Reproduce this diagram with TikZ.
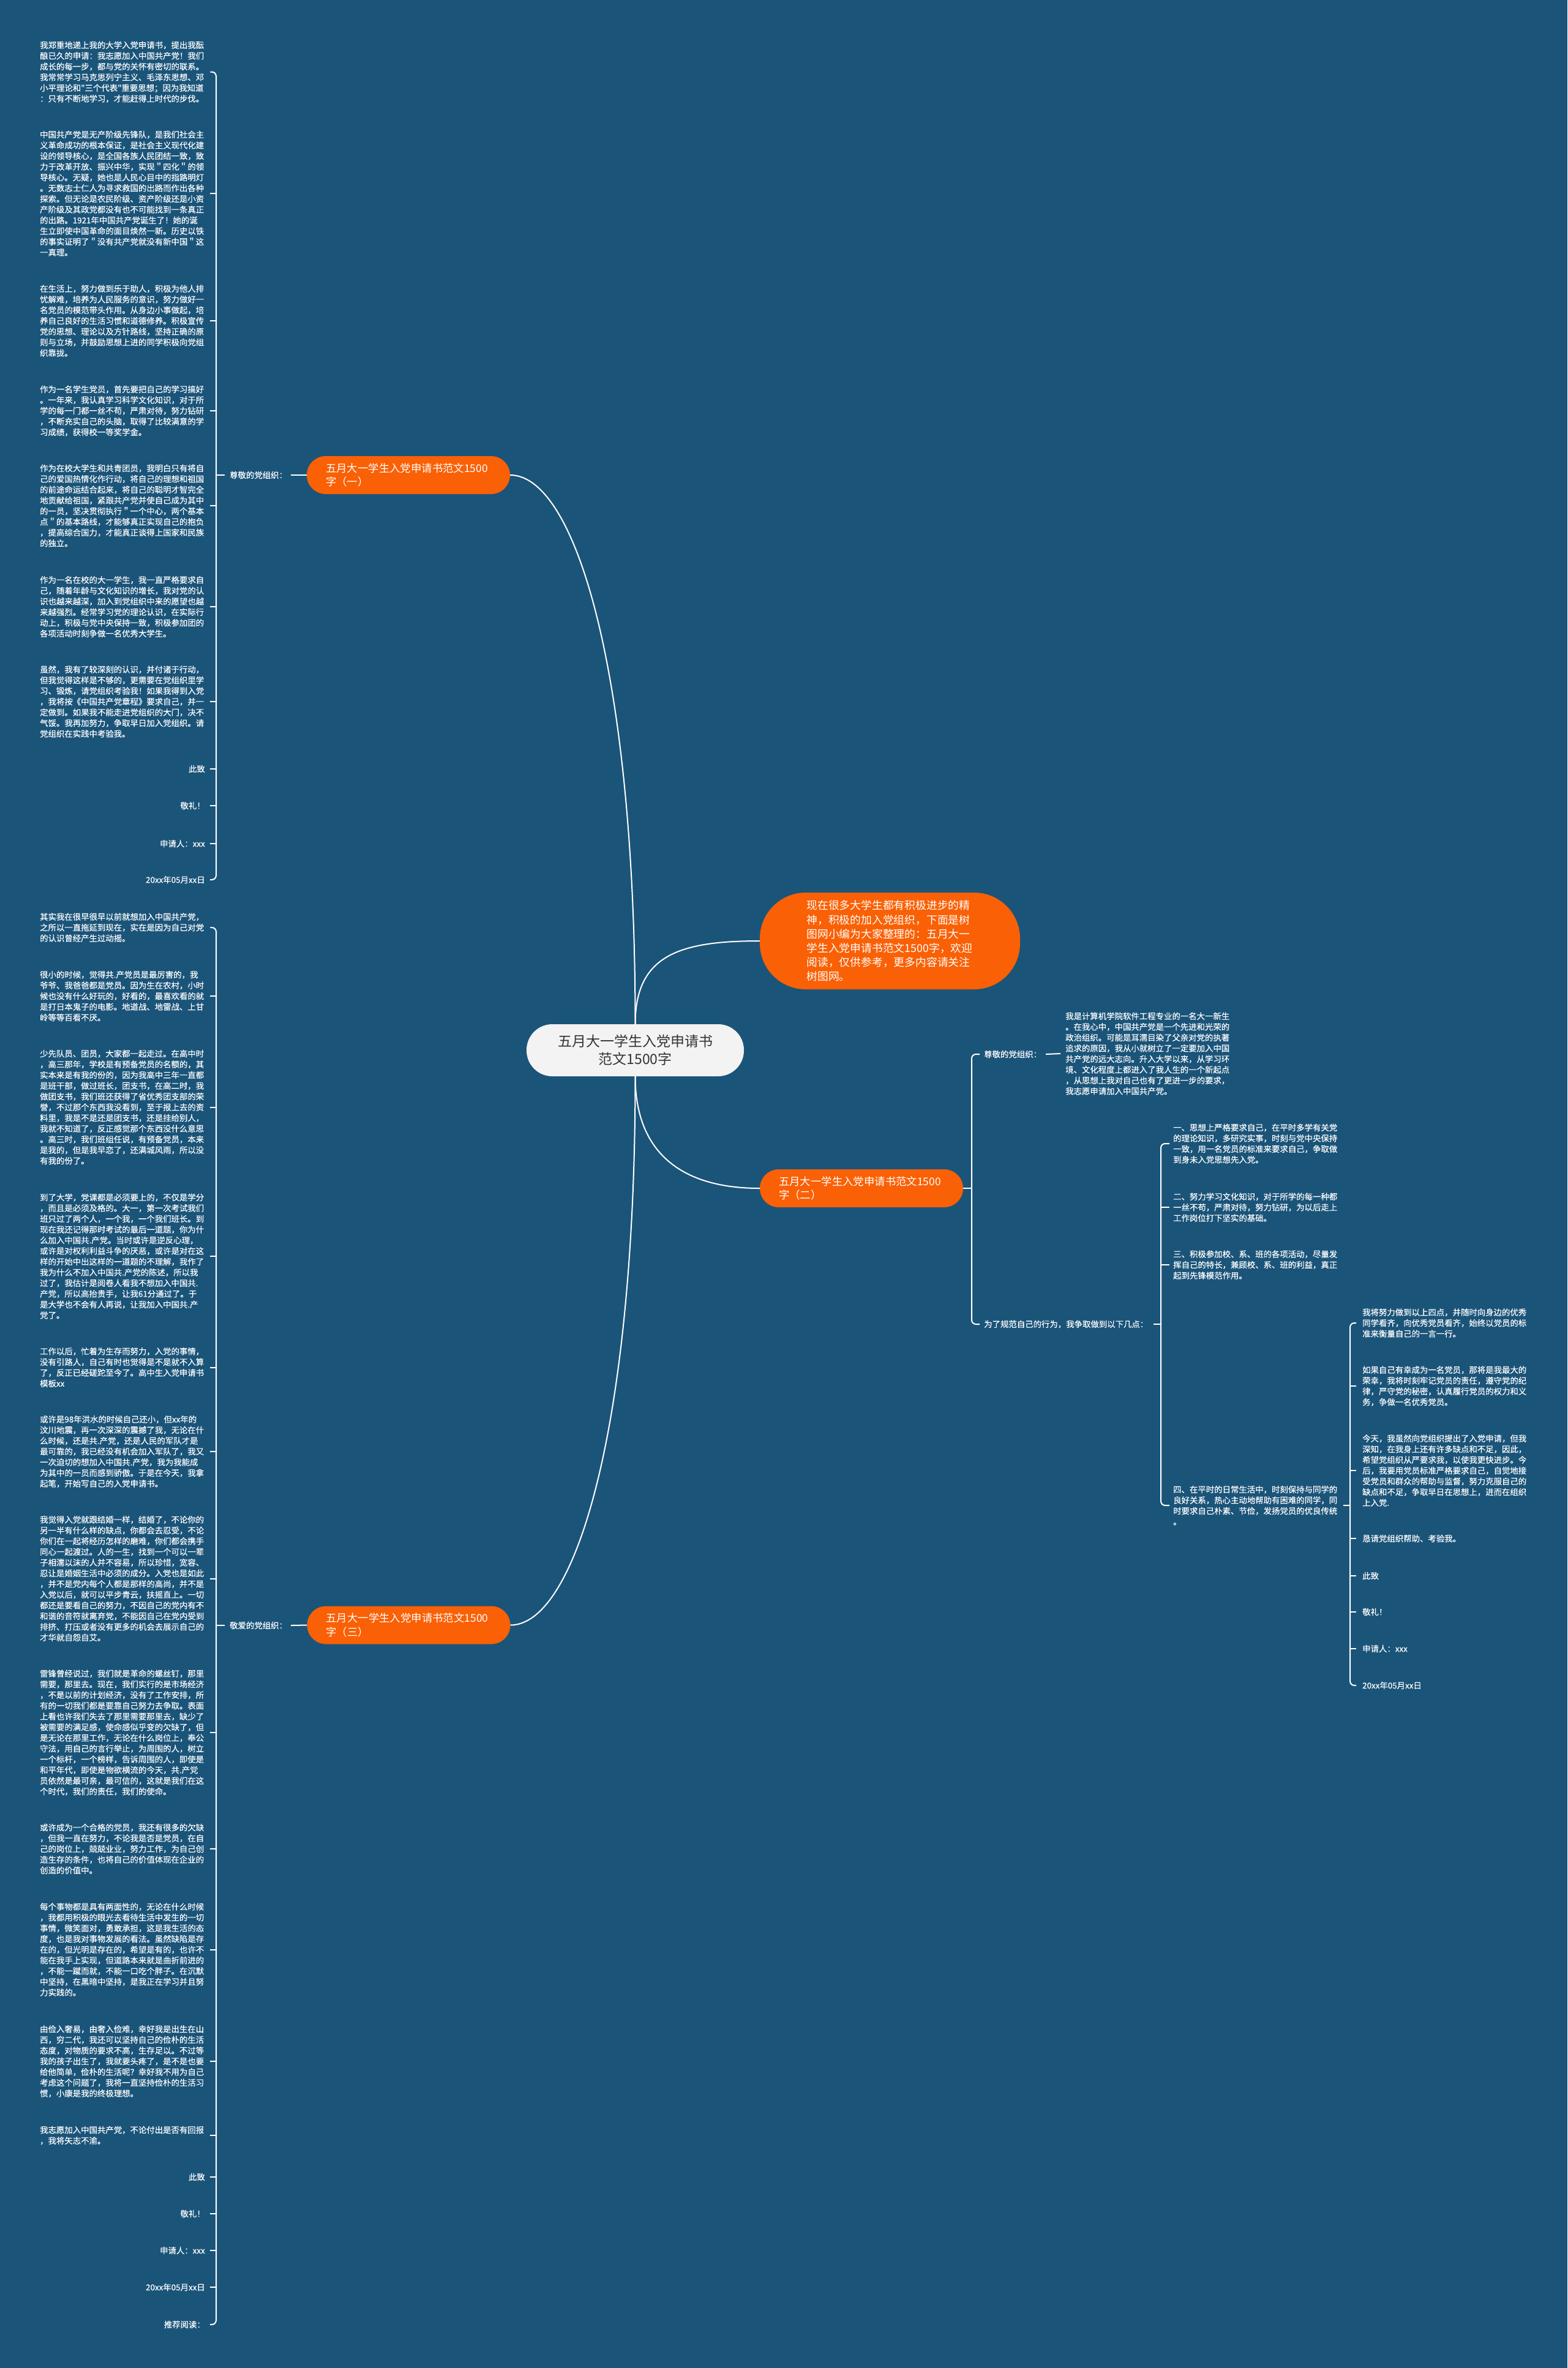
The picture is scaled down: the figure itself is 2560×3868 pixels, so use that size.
\documentclass[tikz,border=0pt]{standalone}
\usepackage{fontspec}
\newfontfamily\cjk{Noto Sans CJK SC}
\newfontfamily\cjkleaf[FakeBold=0.3]{Noto Sans CJK SC}
\definecolor{bgblue}{RGB}{27,84,121}
\definecolor{orangeC}{RGB}{250,96,5}
\definecolor{rootfill}{RGB}{243,243,243}
\definecolor{roottext}{RGB}{51,51,51}
\tikzset{
  conn/.style={draw=white, line width=2pt},
  leftblk/.style={anchor=west, text width=270pt, align=left, inner sep=0pt, text=white, font=\cjkleaf\fontsize{13.4}{17.5}\selectfont},
  rightitem/.style={anchor=east, inner sep=0pt, text=white, font=\cjkleaf\fontsize{13.4}{17.5}\selectfont},
  plainitem/.style={anchor=west, inner sep=0pt, text=white, font=\cjkleaf\fontsize{13.4}{17.5}\selectfont},
  secnode/.style={fill=orangeC, text=white, rounded corners=31pt, minimum width=332pt, minimum height=62pt, text width=270pt, align=left, inner xsep=31pt, inner ysep=5pt, font=\cjk\fontsize{17.4}{22.4}\selectfont},
  introbox/.style={fill=orangeC, text=white, rounded corners=75pt, minimum width=425pt, minimum height=158pt, text width=272pt, align=left, inner xsep=76.5pt, inner ysep=10pt, font=\cjk\fontsize{17.8}{23.2}\selectfont},
  rootbox/.style={fill=rootfill, text=roottext, rounded corners=42pt, minimum width=355pt, minimum height=85pt, align=center, font=\cjk\fontsize{23}{29}\selectfont}
}
\begin{document}
\begin{tikzpicture}[x=1pt, y=-1pt]
  % background
  \fill[bgblue] (0,0) rectangle (2560,3868);
  \useasboundingbox (0,0) rectangle (2560,3868);

  % main nodes
  \node[rootbox] (root) at (1037.5,1715.5) {五月大一学生入党申请书\\范文1500字};
  \node[introbox] (intro) at (1453.5,1537) {现在很多大学生都有积极进步的精\\神，积极的加入党组织，下面是树\\图网小编为大家整理的：五月大一\\学生入党申请书范文1500字，欢迎\\阅读，仅供参考，更多内容请关注\\树图网。};
  \node[secnode] (secA) at (667,776) {五月大一学生入党申请书范文1500\\字（一）};
  \node[secnode] (secB) at (1407,1941) {五月大一学生入党申请书范文1500\\字（二）};
  \node[secnode] (secC) at (667.5,2654.5) {五月大一学生入党申请书范文1500\\字（三）};

  \draw[conn] (root.north) .. controls (1037.5,1100) and (940,776) .. (secA.east);
  \draw[conn] (root.north) .. controls (1037.5,1560) and (1110,1537) .. (intro.west);
  \draw[conn] (root.south) .. controls (1037.5,1880) and (1110,1941) .. (secB.west);
  \draw[conn] (root.south) .. controls (1037.5,2331) and (940,2654.5) .. (secC.east);

  % section one, left column
  \node[plainitem] (labA) at (375,776) {尊敬的党组织：};
  \node[leftblk] (a1) at (65,117.5) {我郑重地递上我的大学入党申请书，提出我酝\\酿已久的申请：我志愿加入中国共产党！我们\\成长的每一步，都与党的关怀有密切的联系。\\我常常学习马克思列宁主义、毛泽东思想、邓\\小平理论和"三个代表"重要思想；因为我知道\\：只有不断地学习，才能赶得上时代的步伐。};
  \node[leftblk] (a2) at (65,316) {中国共产党是无产阶级先锋队，是我们社会主\\义革命成功的根本保证，是社会主义现代化建\\设的领导核心，是全国各族人民团结一致，致\\力于改革开放、振兴中华，实现＂四化＂的领\\导核心。无疑，她也是人民心目中的指路明灯\\。无数志士仁人为寻求救国的出路而作出各种\\探索。但无论是农民阶级、资产阶级还是小资\\产阶级及其政党都没有也不可能找到一条真正\\的出路。1921年中国共产党诞生了！她的诞\\生立即使中国革命的面目焕然一新。历史以铁\\的事实证明了＂没有共产党就没有新中国＂这\\一真理。};
  \node[leftblk] (a3) at (65,524) {在生活上，努力做到乐于助人，积极为他人排\\忧解难，培养为人民服务的意识，努力做好一\\名党员的模范带头作用。从身边小事做起，培\\养自己良好的生活习惯和道德修养。积极宣传\\党的思想、理论以及方针路线，坚持正确的原\\则与立场，并鼓励思想上进的同学积极向党组\\织靠拢。};
  \node[leftblk] (a4) at (65,671) {作为一名学生党员，首先要把自己的学习搞好\\。一年来，我认真学习科学文化知识，对于所\\学的每一门都一丝不苟，严肃对待，努力钻研\\，不断充实自己的头脑，取得了比较满意的学\\习成绩，获得校一等奖学金。};
  \node[leftblk] (a5) at (65,826) {作为在校大学生和共青团员，我明白只有将自\\己的爱国热情化作行动，将自己的理想和祖国\\的前途命运结合起来，将自己的聪明才智完全\\地贡献给祖国，紧跟共产党并使自己成为其中\\的一员，坚决贯彻执行＂一个中心，两个基本\\点＂的基本路线，才能够真正实现自己的抱负\\，提高综合国力，才能真正谈得上国家和民族\\的独立。};
  \node[leftblk] (a6) at (65,991) {作为一名在校的大一学生，我一直严格要求自\\己，随着年龄与文化知识的增长，我对党的认\\识也越来越深，加入到党组织中来的愿望也越\\来越强烈。经常学习党的理论认识，在实际行\\动上，积极与党中央保持一致，积极参加团的\\各项活动时刻争做一名优秀大学生。};
  \node[leftblk] (a7) at (65,1146) {虽然，我有了较深刻的认识，并付诸于行动，\\但我觉得这样是不够的，更需要在党组织里学\\习、锻炼，请党组织考验我！如果我得到入党\\，我将按《中国共产党章程》要求自己，并一\\定做到。如果我不能走进党组织的大门，决不\\气馁。我再加努力，争取早日加入党组织。请\\党组织在实践中考验我。};
  \node[rightitem] (a8) at (335,1256) {此致};
  \node[rightitem] (a9) at (335,1316) {敬礼！};
  \node[rightitem] (a10) at (335,1378) {申请人：xxx};
  \node[rightitem] (a11) at (335,1437) {20xx年05月xx日};

  \coordinate (brA) at (353,0);
  \draw[conn, rounded corners=7pt] ([xshift=8pt]a1.east) -- (a1.east -| brA) -- (a11.east -| brA) -- ([xshift=8pt]a11.east);
  \foreach \n in {a2,a3,a4,a5,a6,a7,a8,a9,a10}
    \draw[conn] ([xshift=8pt]\n.east) -- (\n.east -| brA);
  \draw[conn] (labA.west -| brA) -- ([xshift=-8pt]labA.west);
  \draw[conn] ([xshift=6pt]labA.east) -- (secA.west);

  % section three, left column
  \node[plainitem] (labC) at (375,2655) {敬爱的党组织：};
  \node[leftblk] (c1) at (65,1515) {其实我在很早很早以前就想加入中国共产党，\\之所以一直拖延到现在，实在是因为自己对党\\的认识曾经产生过动摇。};
  \node[leftblk] (c2) at (65,1627) {很小的时候，觉得共.产党员是最厉害的，我\\爷爷、我爸爸都是党员。因为生在农村，小时\\候也没有什么好玩的，好看的，最喜欢看的就\\是打日本鬼子的电影。地道战、地雷战、上甘\\岭等等百看不厌。};
  \node[leftblk] (c3) at (65,1808.5) {少先队员、团员，大家都一起走过。在高中时\\，高三那年，学校是有预备党员的名额的，其\\实本来是有我的份的，因为我高中三年一直都\\是班干部，做过班长，团支书，在高二时，我\\做团支书，我们班还获得了省优秀团支部的荣\\誉，不过那个东西我没看到，至于报上去的资\\料里，我是不是还是团支书，还是挂给别人，\\我就不知道了，反正感觉那个东西没什么意思\\。高三时，我们班组任说，有预备党员，本来\\是我的，但是我早恋了，还满城风雨，所以没\\有我的份了。};
  \node[leftblk] (c4) at (65,2052) {到了大学，党课都是必须要上的，不仅是学分\\，而且是必须及格的。大一，第一次考试我们\\班只过了两个人，一个我，一个我们班长。到\\现在我还记得那时考试的最后一道题，你为什\\么加入中国共.产党。当时或许是逆反心理，\\或许是对权利利益斗争的厌恶，或许是对在这\\样的开始中出这样的一道题的不理解，我作了\\我为什么不加入中国共.产党的陈述，所以我\\过了，我估计是阅卷人看我不想加入中国共.\\产党，所以高抬贵手，让我61分通过了。于\\是大学也不会有人再说，让我加入中国共.产\\党了。};
  \node[leftblk] (c5) at (65,2233.5) {工作以后，忙着为生存而努力，入党的事情，\\没有引路人，自己有时也觉得是不是就不入算\\了，反正已经磋跎至今了。高中生入党申请书\\模板xx};
  \node[leftblk] (c6) at (65,2371) {或许是98年洪水的时候自己还小，但xx年的\\汶川地震，再一次深深的震撼了我，无论在什\\么时候，还是共.产党，还是人民的军队才是\\最可靠的，我已经没有机会加入军队了，我又\\一次迫切的想加入中国共.产党，我为我能成\\为其中的一员而感到骄傲。于是在今天，我拿\\起笔，开始写自己的入党申请书。};
  \node[leftblk] (c7) at (65,2578.5) {我觉得入党就跟结婚一样，结婚了，不论你的\\另一半有什么样的缺点，你都会去忍受，不论\\你们在一起将经历怎样的磨难，你们都会携手\\同心一起渡过。人的一生，找到一个可以一辈\\子相濡以沫的人并不容易，所以珍惜，宽容、\\忍让是婚姻生活中必须的成分。入党也是如此\\，并不是党内每个人都是那样的高尚，并不是\\入党以后，就可以平步青云，扶摇直上。一切\\都还是要看自己的努力，不因自己的党内有不\\和谐的音符就离弃党，不能因自己在党内受到\\排挤、打压或者没有更多的机会去展示自己的\\才华就自怨自艾。};
  \node[leftblk] (c8) at (65,2830) {雷锋曾经说过，我们就是革命的螺丝钉，那里\\需要，那里去。现在，我们实行的是市场经济\\，不是以前的计划经济，没有了工作安排，所\\有的一切我们都是要靠自己努力去争取。表面\\上看也许我们失去了那里需要那里去，缺少了\\被需要的满足感，使命感似乎变的欠缺了，但\\是无论在那里工作，无论在什么岗位上，奉公\\守法，用自己的言行举止，为周围的人，树立\\一个标杆，一个榜样，告诉周围的人，即使是\\和平年代，即使是物欲横流的今天，共.产党\\员依然是最可亲，最可信的，这就是我们在这\\个时代，我们的责任，我们的使命。};
  \node[leftblk] (c9) at (65,3020) {或许成为一个合格的党员，我还有很多的欠缺\\，但我一直在努力，不论我是否是党员，在自\\己的岗位上，兢兢业业，努力工作，为自己创\\造生存的条件，也将自己的价值体现在企业的\\创造的价值中。};
  \node[leftblk] (c10) at (65,3184.5) {每个事物都是具有两面性的，无论在什么时候\\，我都用积极的眼光去看待生活中发生的一切\\事情，微笑面对，勇敢承担，这是我生活的态\\度，也是我对事物发展的看法。虽然缺陷是存\\在的，但光明是存在的，希望是有的，也许不\\能在我手上实现，但道路本来就是曲折前进的\\，不能一蹴而就，不能一口吃个胖子。在沉默\\中坚持，在黑暗中坚持，是我正在学习并且努\\力实践的。};
  \node[leftblk] (c11) at (65,3367) {由俭入奢易，由奢入俭难，幸好我是出生在山\\西，穷二代，我还可以坚持自己的俭朴的生活\\态度，对物质的要求不高，生存足以。不过等\\我的孩子出生了，我就要头疼了，是不是也要\\给他简单，俭朴的生活呢？幸好我不用为自己\\考虑这个问题了，我将一直坚持俭朴的生活习\\惯，小康是我的终极理想。};
  \node[leftblk] (c12) at (65,3488) {我志愿加入中国共产党，不论付出是否有回报\\，我将矢志不渝。};
  \node[rightitem] (c13) at (335,3556) {此致};
  \node[rightitem] (c14) at (335,3616) {敬礼！};
  \node[rightitem] (c15) at (335,3676) {申请人：xxx};
  \node[rightitem] (c16) at (335,3736) {20xx年05月xx日};
  \node[rightitem] (c17) at (335,3797) {推荐阅读：};

  \draw[conn, rounded corners=7pt] ([xshift=8pt]c1.east) -- (c1.east -| brA) -- (c17.east -| brA) -- ([xshift=8pt]c17.east);
  \foreach \n in {c2,c3,c4,c5,c6,c7,c8,c9,c10,c11,c12,c13,c14,c15,c16}
    \draw[conn] ([xshift=8pt]\n.east) -- (\n.east -| brA);
  \draw[conn] (labC.west -| brA) -- ([xshift=-8pt]labC.west);
  \draw[conn] ([xshift=6pt]labC.east) -- (secC.west);

  % section two, right side
  \node[plainitem] (labB1) at (1607,1722) {尊敬的党组织：};
  \node[leftblk] (b0) at (1740,1721) {我是计算机学院软件工程专业的一名大一新生\\。在我心中，中国共产党是一个先进和光荣的\\政治组织。可能是耳濡目染了父亲对党的执著\\追求的原因，我从小就树立了一定要加入中国\\共产党的远大志向。升入大学以来，从学习环\\境、文化程度上都进入了我人生的一个新起点\\，从思想上我对自己也有了更进一步的要求，\\我志愿申请加入中国共产党。};
  \node[plainitem] (labB2) at (1607,2163) {为了规范自己的行为，我争取做到以下几点：};

  \coordinate (brB) at (1587,0);
  \draw[conn] (secB.east) -- (secB.east -| brB);
  \draw[conn, rounded corners=7pt] ([xshift=-7pt]labB1.west) -- (labB1.west -| brB) -- (labB2.west -| brB) -- ([xshift=-7pt]labB2.west);
  \draw[conn] ([xshift=7pt]labB1.east) -- ([xshift=-8pt]b0.west);

  \node[leftblk] (p1) at (1916,1868) {一、思想上严格要求自己，在平时多学有关党\\的理论知识，多研究实事，时刻与党中央保持\\一致，用一名党员的标准来要求自己，争取做\\到身未入党思想先入党。};
  \node[leftblk] (p2) at (1916,1972) {二、努力学习文化知识，对于所学的每一种都\\一丝不苟，严肃对待，努力钻研，为以后走上\\工作岗位打下坚实的基础。};
  \node[leftblk] (p3) at (1916,2066) {三、积极参加校、系、班的各项活动，尽量发\\挥自己的特长，兼顾校、系、班的利益，真正\\起到先锋模范作用。};
  \node[leftblk] (p4) at (1916,2459) {四、在平时的日常生活中，时刻保持与同学的\\良好关系，热心主动地帮助有困难的同学，同\\时要求自己朴素、节俭，发扬党员的优良传统\\。};

  \coordinate (brP) at (1896,0);
  \draw[conn] ([xshift=9pt]labB2.east) -- (labB2.east -| brP);
  \draw[conn, rounded corners=7pt] ([xshift=-6pt]p1.west) -- (p1.west -| brP) -- (p4.west -| brP) -- ([xshift=-6pt]p4.west);
  \foreach \n in {p2,p3}
    \draw[conn] ([xshift=-6pt]\n.west) -- (\n.west -| brP);

  \node[leftblk] (q1) at (2225,2161) {我将努力做到以上四点，并随时向身边的优秀\\同学看齐，向优秀党员看齐，始终以党员的标\\准来衡量自己的一言一行。};
  \node[leftblk] (q2) at (2225,2264) {如果自己有幸成为一名党员，那将是我最大的\\荣幸，我将时刻牢记党员的责任，遵守党的纪\\律，严守党的秘密，认真履行党员的权力和义\\务，争做一名优秀党员。};
  \node[leftblk] (q3) at (2225,2402) {今天，我虽然向党组织提出了入党申请，但我\\深知，在我身上还有许多缺点和不足，因此，\\希望党组织从严要求我，以使我更快进步。今\\后，我要用党员标准严格要求自己，自觉地接\\受党员和群众的帮助与监督，努力克服自己的\\缺点和不足，争取早日在思想上，进而在组织\\上入党.};
  \node[plainitem] (q4) at (2225,2513) {恳请党组织帮助、考验我。};
  \node[plainitem] (q5) at (2225,2574) {此致};
  \node[plainitem] (q6) at (2225,2633) {敬礼！};
  \node[plainitem] (q7) at (2225,2693) {申请人：xxx};
  \node[plainitem] (q8) at (2225,2753) {20xx年05月xx日};

  \coordinate (brQ) at (2205,0);
  \draw[conn] ([xshift=8pt]p4.east) -- (p4.east -| brQ);
  \draw[conn, rounded corners=7pt] ([xshift=-10pt]q1.west) -- (q1.west -| brQ) -- (q8.west -| brQ) -- ([xshift=-10pt]q8.west);
  \foreach \n in {q2,q3,q4,q5,q6,q7}
    \draw[conn] ([xshift=-10pt]\n.west) -- (\n.west -| brQ);
\end{tikzpicture}
\end{document}
